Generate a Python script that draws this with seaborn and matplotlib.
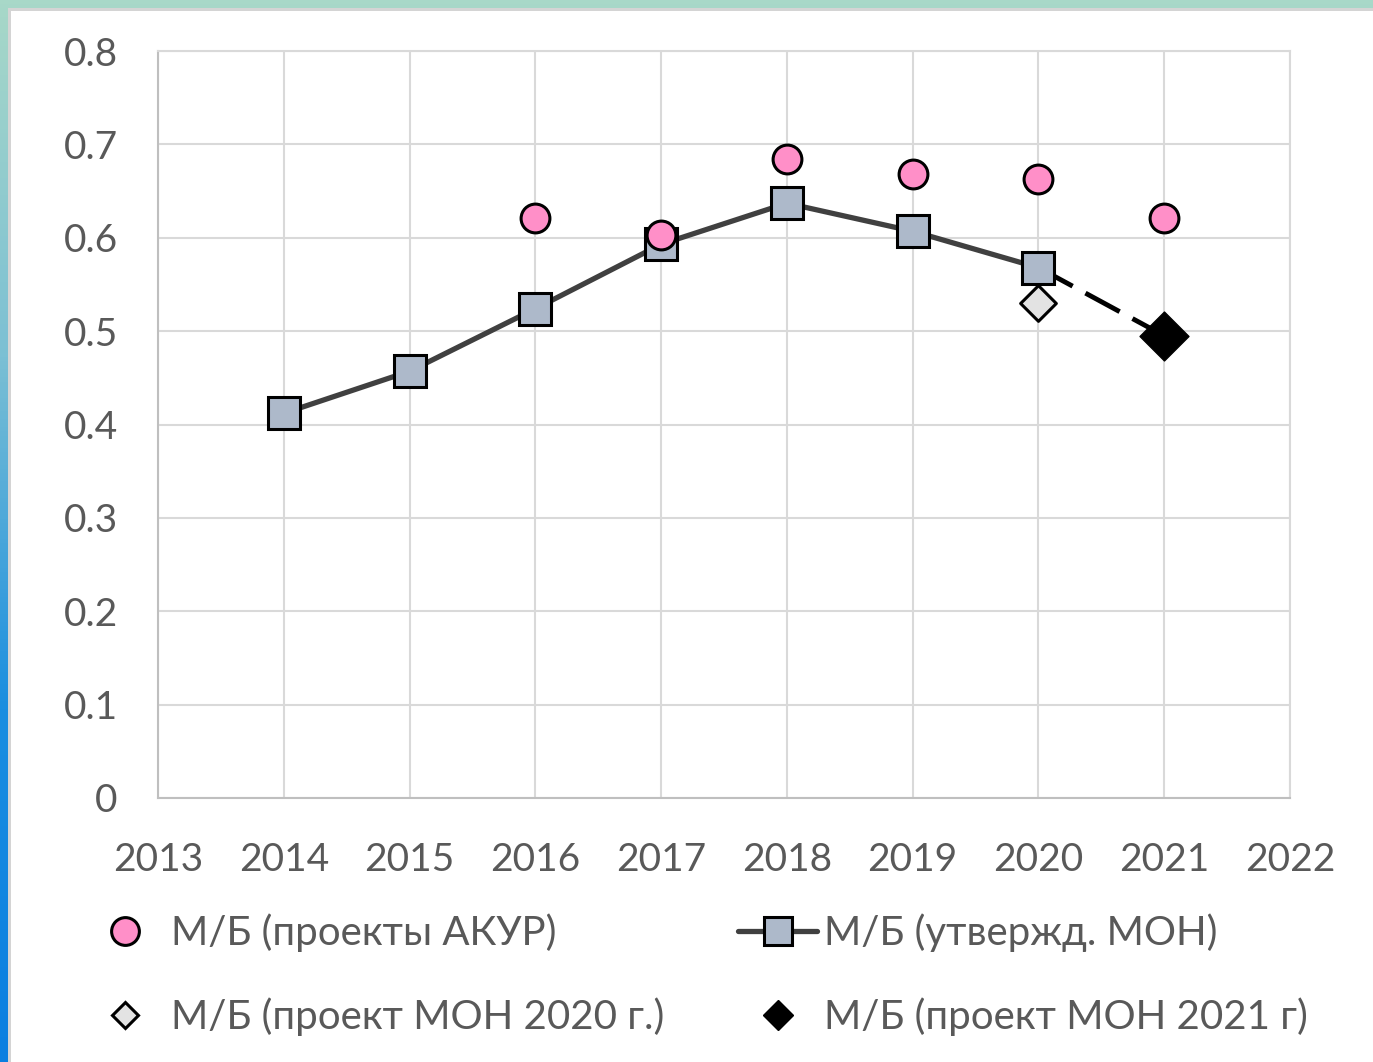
import numpy as np
import pandas as pd
import matplotlib; matplotlib.use('Agg')
import matplotlib.pyplot as plt
from matplotlib.lines import Line2D
from matplotlib.colors import LinearSegmentedColormap
import seaborn as sns

# data
years_akur = [2016, 2017, 2018, 2019, 2020, 2021]
mb_akur = [0.621, 0.603, 0.684, 0.668, 0.663, 0.621]
years_mon = [2014, 2015, 2016, 2017, 2018, 2019, 2020]
mb_mon = [0.412, 0.457, 0.524, 0.593, 0.637, 0.607, 0.568]
years_mon2020 = [2020]
mb_mon2020 = [0.530]
years_mon2021 = [2021]
mb_mon2021 = [0.495]
x_ticks = list(range(2013, 2023))
y_ticks = [0, 0.1, 0.2, 0.3, 0.4, 0.5, 0.6, 0.7, 0.8]
labels = ['М/Б (проекты АКУР)', 'М/Б (утвержд. МОН)',
          'М/Б (проект МОН 2020 г.)', 'М/Б (проект МОН 2021 г)']

sns.set_style('white')
plt.rcParams['font.family'] = ['Lato', 'Open Sans', 'DejaVu Sans']
TXT = '#595959'
GRID = '#d9d9d9'

fig = plt.figure(figsize=(13.73, 10.62), dpi=100)

# gradient frame on left and top
bg = fig.add_axes([0, 0, 1, 1], zorder=-10)
grad = np.linspace(0, 1, 256).reshape(-1, 1)
cm = LinearSegmentedColormap.from_list('fr', ['#a8d8c8', '#7cc0d4', '#1a8ee0', '#0a7fe0'])
bg.imshow(grad, aspect='auto', cmap=cm, extent=[0, 1, 0, 1], origin='upper')
bg.add_patch(plt.Rectangle((8 / 1373, 0), 1, 1 - 8 / 1062, facecolor='#d4d4d4', edgecolor='none'))
bg.add_patch(plt.Rectangle((11 / 1373, 0), 1, 1 - 11 / 1062, facecolor='white', edgecolor='none'))
bg.set_xlim(0, 1); bg.set_ylim(0, 1); bg.axis('off')

ax = fig.add_axes([158 / 1373, 1 - 798 / 1062, (1290 - 158) / 1373, (798 - 51) / 1062])
ax.patch.set_alpha(0)

df_mon = pd.DataFrame({'year': years_mon, 'mb': mb_mon})
df_akur = pd.DataFrame({'year': years_akur, 'mb': mb_akur})

sns.lineplot(data=df_mon, x='year', y='mb', ax=ax, color='#404040', lw=3.8,
             marker='s', markersize=23, markerfacecolor='#adb9ca', markeredgecolor='black',
             markeredgewidth=2.2, zorder=3)
# dashed continuation 2020 -> 2021
ax.plot([years_mon[-1], years_mon2021[0]], [mb_mon[-1], mb_mon2021[0]], color='black',
        lw=3.5, dashes=(8, 3), zorder=2)
sns.scatterplot(x=years_mon2020, y=mb_mon2020, ax=ax, marker='D', s=330, color='#e3e3e3',
                edgecolor='black', linewidth=2.2, zorder=4)
sns.scatterplot(x=years_mon2021, y=mb_mon2021, ax=ax, marker='D', s=620, color='black',
                edgecolor='black', linewidth=1, zorder=4)
sns.scatterplot(data=df_akur, x='year', y='mb', ax=ax, marker='o', s=430, color='#ff8fc8',
                edgecolor='black', linewidth=2.2, zorder=5)

ax.set_xlim(2013, 2022)
ax.set_ylim(0, 0.8)
ax.set_xticks(x_ticks)
ax.set_yticks(y_ticks)
ax.set_yticklabels(['0' if v == 0 else f'{v:.1f}' for v in y_ticks])
ax.set_xlabel(''); ax.set_ylabel('')
ax.grid(True, color=GRID, lw=1.5)
for s in ax.spines.values():
    s.set_visible(True); s.set_color(GRID); s.set_linewidth(1.5)
ax.spines['left'].set_color('#bfbfbf'); ax.spines['bottom'].set_color('#bfbfbf')
ax.tick_params(axis='both', length=0, labelsize=28, labelcolor=TXT)
ax.tick_params(axis='x', pad=32)
ax.tick_params(axis='y', pad=29)
ax.set_axisbelow(True)

handles = [
    Line2D([], [], ls='none', marker='o', markersize=20, markerfacecolor='#ff8fc8',
           markeredgecolor='black', markeredgewidth=2.2),
    Line2D([], [], ls='none', marker='D', markersize=13, markerfacecolor='#e3e3e3',
           markeredgecolor='black', markeredgewidth=2.2),
    Line2D([], [], color='#404040', lw=3.8, marker='s', markersize=20,
           markerfacecolor='#adb9ca', markeredgecolor='black', markeredgewidth=2.2),
    Line2D([], [], ls='none', marker='D', markersize=15, markerfacecolor='black',
           markeredgecolor='black'),
]
fig.legend(handles, [labels[0], labels[2], labels[1], labels[3]], ncol=2,
           loc='upper left', bbox_to_anchor=(49 / 1373, 1 - 877 / 1062), frameon=False,
           fontsize=29, labelcolor=TXT, handlelength=1.95, handletextpad=0.17,
           columnspacing=1.85, labelspacing=1.13)

fig.savefig('out.png', dpi=100)
